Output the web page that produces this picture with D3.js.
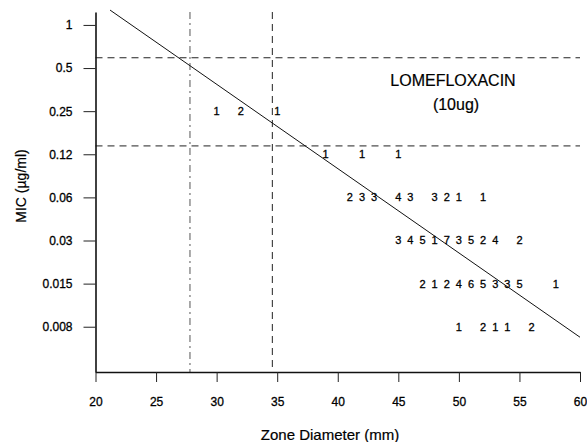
<!DOCTYPE html>
<html>
<head>
<meta charset="utf-8">
<script src="https://cdn.jsdelivr.net/npm/d3@7"></script>
<style>
  body { margin: 0; background: #fff; }
  svg { display: block; font-family: "Liberation Sans", Arial, sans-serif; }
</style>
</head>
<body>
<div id="chart"></div>
<script>
// MIC dilution steps (log2) and the labels printed on the axis
const micTicks = [1, 0.5, 0.25, 0.125, 0.0625, 0.03125, 0.015625, 0.0078125];
const micLabels = ["1", "0.5", "0.25", "0.12", "0.06", "0.03", "0.015", "0.008"];
const zoneTicks = [20, 25, 30, 35, 40, 45, 50, 55, 60];

// number of isolates at each zone diameter, one row per MIC
const zones_025 = [30, 32, 35];
const counts_025 = [1, 2, 1];
const zones_012 = [39, 42, 45];
const counts_012 = [1, 1, 1];
const zones_006 = [41, 42, 43, 45, 46, 48, 49, 50, 52];
const counts_006 = [2, 3, 3, 4, 3, 3, 2, 1, 1];
const zones_003 = [45, 46, 47, 48, 49, 50, 51, 52, 53, 55];
const counts_003 = [3, 4, 5, 1, 7, 3, 5, 2, 4, 2];
const zones_0015 = [47, 48, 49, 50, 51, 52, 53, 54, 55, 58];
const counts_0015 = [2, 1, 2, 4, 6, 5, 3, 3, 5, 1];
const zones_0008 = [50, 52, 53, 54, 56];
const counts_0008 = [1, 2, 1, 1, 2];

// regression line end points and interpretive breakpoints
const lineZone = [21.2, 60];
const lineMic = [1.27, 0.0066];
const micBreaks = [0.59, 0.143];
const zoneBreaks = [27.8, 34.6];

const rows = [
  [0.25, zones_025, counts_025],
  [0.125, zones_012, counts_012],
  [0.0625, zones_006, counts_006],
  [0.03125, zones_003, counts_003],
  [0.015625, zones_0015, counts_0015],
  [0.0078125, zones_0008, counts_0008]
];
let points = [];
rows.forEach(function (r) {
  r[1].forEach(function (z, i) {
    points.push({ mic: r[0], zone: z, n: r[2][i] });
  });
});

let width = 587, height = 442;

let svg = d3.select("#chart")
  .append("svg")
  .attr("width", width)
  .attr("height", height);

let x = d3.scaleLinear().domain([20, 60]).range([95.5, 580]);
let y = d3.scaleLog().base(2)
  .domain([Math.pow(2, 0.30), Math.pow(2, -8.05)])
  .range([12, 372]);

// breakpoint lines
svg.selectAll(".hbreak")
  .data(micBreaks)
  .enter().append("line")
  .attr("class", "hbreak")
  .attr("x1", x(20)).attr("x2", x(60))
  .attr("y1", d => y(d)).attr("y2", d => y(d))
  .attr("stroke", "#222")
  .attr("stroke-width", 1)
  .attr("stroke-dasharray", "7,5");

svg.selectAll(".vbreak")
  .data(zoneBreaks)
  .enter().append("line")
  .attr("class", "vbreak")
  .attr("x1", d => x(d)).attr("x2", d => x(d))
  .attr("y1", 12).attr("y2", 372)
  .attr("stroke", (d, i) => i == 0 ? "#555" : "#222")
  .attr("stroke-width", 1)
  .attr("stroke-dasharray", (d, i) => i == 0 ? "7,4,2,4" : "7,5");

// regression line
svg.append("line")
  .attr("x1", x(lineZone[0])).attr("y1", y(lineMic[0]))
  .attr("x2", x(lineZone[1])).attr("y2", y(lineMic[1]))
  .attr("stroke", "#111")
  .attr("stroke-width", 1);

// counts
svg.selectAll(".cnt")
  .data(points)
  .enter().append("text")
  .attr("class", "cnt")
  .attr("x", d => x(d.zone))
  .attr("y", d => y(d.mic))
  .attr("dy", "0.36em")
  .attr("text-anchor", "middle")
  .style("font-size", "11px")
  .style("stroke", "#000")
  .style("stroke-width", "0.3px")
  .text(d => d.n);

// axes
let xAxis = svg.append("g")
  .attr("transform", "translate(0,372)")
  .call(d3.axisBottom(x).tickValues(zoneTicks).tickSize(10).tickSizeOuter(0).tickPadding(15));

let yAxis = svg.append("g")
  .attr("transform", "translate(" + x(20) + ",0)")
  .call(d3.axisLeft(y).tickValues(micTicks)
    .tickFormat((d, i) => micLabels[i])
    .tickSize(12).tickSizeOuter(0).tickPadding(11));

[xAxis, yAxis].forEach(function (g) {
  g.select(".domain").attr("stroke", "#111").attr("stroke-width", 1.6);
  g.selectAll(".tick line").attr("stroke", "#222");
  g.selectAll(".tick text").attr("fill", "#000").style("font-size", "12px")
    .style("stroke", "#000").style("stroke-width", "0.3px")
    .style("font-family", "'Liberation Sans', Arial, sans-serif");
});

// titles
svg.append("text")
  .attr("x", 453).attr("y", 86)
  .attr("text-anchor", "middle")
  .style("font-size", "16px")
  .style("stroke", "#000").style("stroke-width", "0.2px")
  .text("LOMEFLOXACIN");
svg.append("text")
  .attr("x", 456).attr("y", 110)
  .attr("text-anchor", "middle")
  .style("font-size", "16px")
  .style("stroke", "#000").style("stroke-width", "0.2px")
  .text("(10ug)");

svg.append("text")
  .attr("x", 330).attr("y", 440)
  .attr("text-anchor", "middle")
  .style("font-size", "15px")
  .style("stroke", "#000").style("stroke-width", "0.2px")
  .text("Zone Diameter (mm)");

svg.append("text")
  .attr("transform", "translate(26,186) rotate(-90)")
  .attr("text-anchor", "middle")
  .style("font-size", "14px")
  .style("stroke", "#000").style("stroke-width", "0.2px")
  .text("MIC (µg/ml)");
</script>
</body>
</html>
